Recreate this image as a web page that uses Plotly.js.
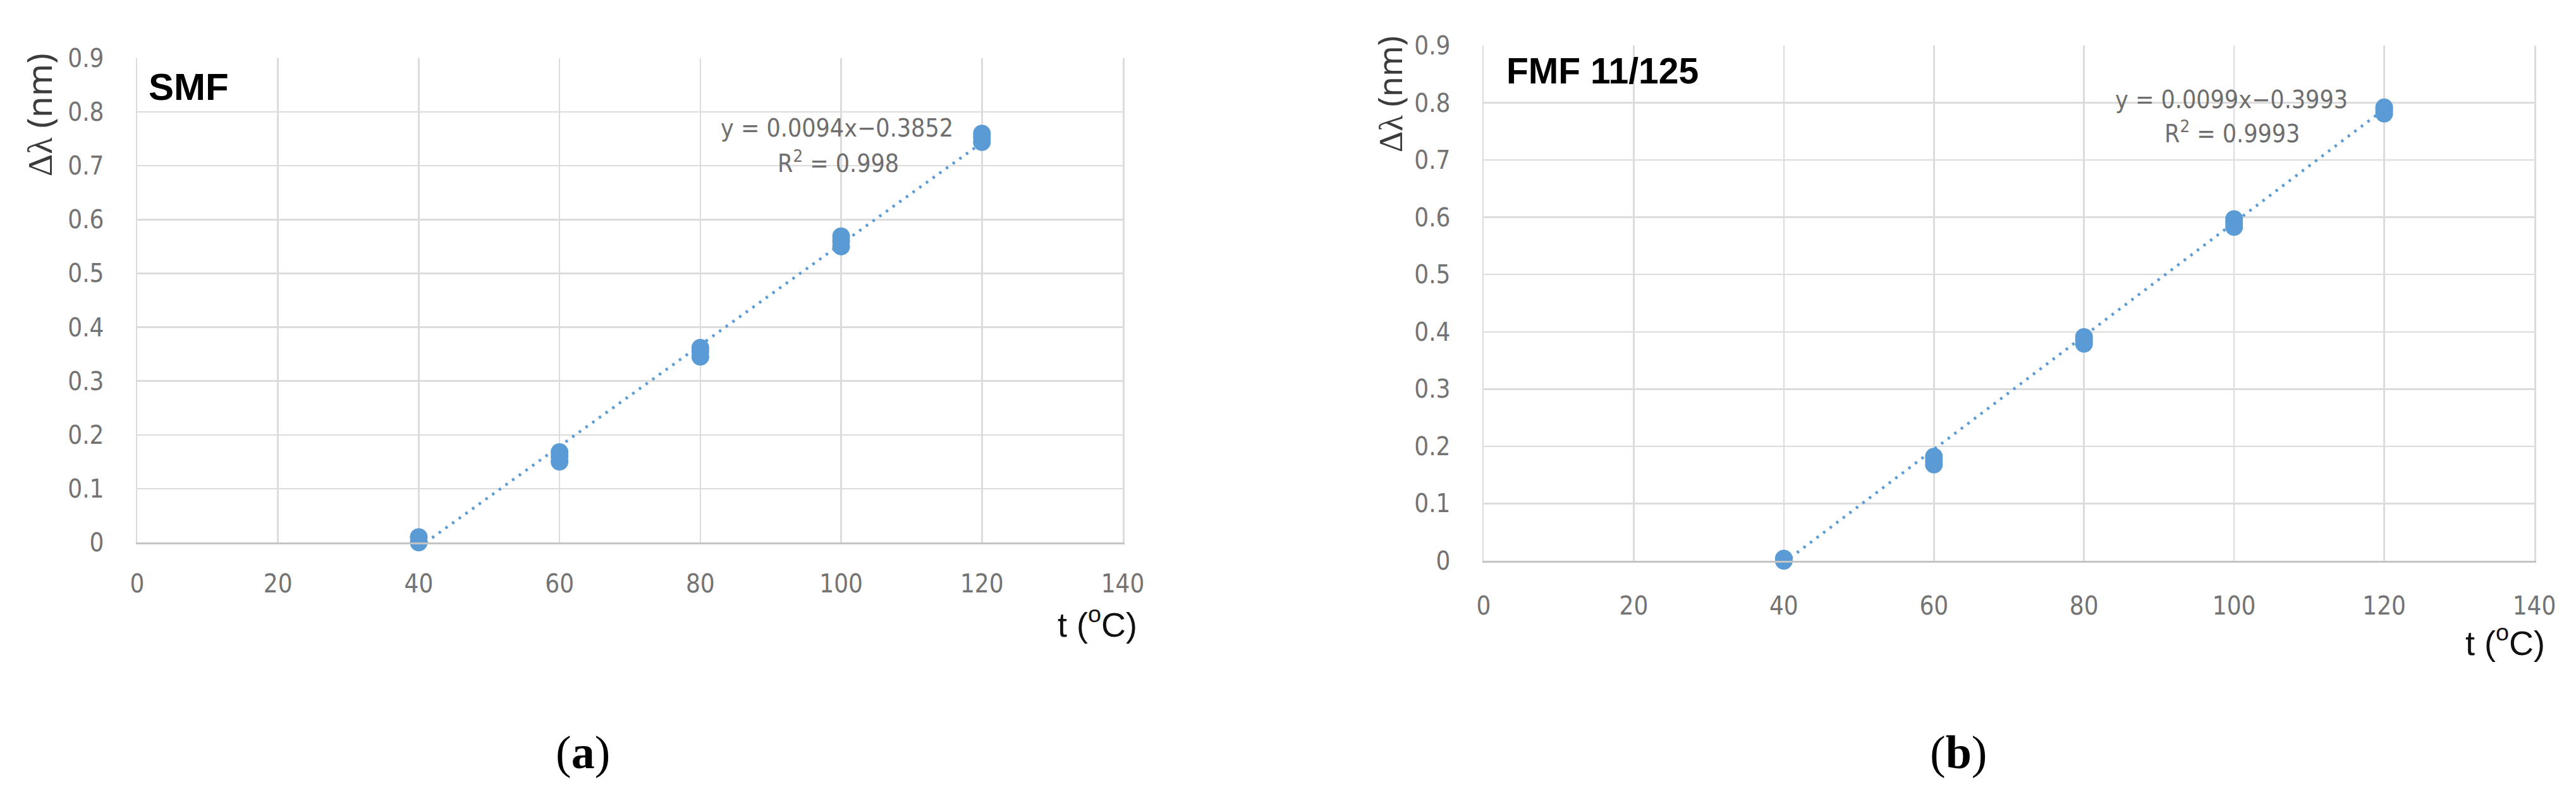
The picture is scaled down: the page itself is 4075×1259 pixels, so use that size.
<!DOCTYPE html>
<html>
<head>
<meta charset="utf-8">
<script src="https://cdn.plot.ly/plotly-3.0.1.min.js"></script>
<style>
body { margin: 0; background: #fff; }
#graph { width: 4075px; height: 1259px; }
</style>
</head>
<body>
<div id="graph"></div>
<script>
// wavelength shift vs temperature, two fibres, Excel-style scatter + linear trendline
var W = 4075, H = 1259;

// (a) SMF
var smfT = [40, 40, 60, 60, 60, 80, 80, 80, 100, 100, 100, 120, 120, 120];
var smfD = [0.0, 0.01, 0.15, 0.16, 0.168, 0.345, 0.355, 0.362, 0.55, 0.56, 0.569, 0.744, 0.753, 0.76];
var smfSlope = 0.0094, smfIcpt = -0.3852, smfR2 = '0.998';

// (b) FMF 11/125
var fmfT = [40, 40, 60, 60, 60, 80, 80, 80, 100, 100, 100, 120, 120, 120];
var fmfD = [0.0, 0.004, 0.168, 0.175, 0.182, 0.379, 0.385, 0.391, 0.583, 0.59, 0.597, 0.781, 0.787, 0.792];
var fmfSlope = 0.0099, fmfIcpt = -0.3993, fmfR2 = '0.9993';

var xTicks = [0, 20, 40, 60, 80, 100, 120, 140];
var yTicks = [0, 0.1, 0.2, 0.3, 0.4, 0.5, 0.6, 0.7, 0.8, 0.9];
var yTickText = ['0', '0.1', '0.2', '0.3', '0.4', '0.5', '0.6', '0.7', '0.8', '0.9'];

var blue = '#5b9bd5';
var tickFont = { family: 'DejaVu Sans Condensed, Liberation Sans Narrow, sans-serif', size: 40, color: '#737373' };

function px(x) { return x / W; }
function py(y) { return 1 - y / H; }

function points(t, d, xa, ya) {
	return {
		x: t, y: d, xaxis: xa, yaxis: ya,
		type: 'scatter', mode: 'markers', cliponaxis: false,
		marker: { size: 28, color: blue }
	};
}

function trend(t, slope, icpt, xa, ya) {
	var lo = Math.min.apply(null, t), hi = Math.max.apply(null, t);
	return {
		x: [lo, hi], y: [slope * lo + icpt, slope * hi + icpt], xaxis: xa, yaxis: ya,
		type: 'scatter', mode: 'lines', cliponaxis: false,
		line: { color: blue, width: 4.5, dash: '4px,9px' }
	};
}

var data = [
	trend(smfT, smfSlope, smfIcpt, 'x', 'y'),
	points(smfT, smfD, 'x', 'y'),
	trend(fmfT, fmfSlope, fmfIcpt, 'x2', 'y2'),
	points(fmfT, fmfD, 'x2', 'y2')
];

function xax(dom, anchor, standoff) {
	return {
		domain: dom, anchor: anchor, range: [0, 140],
		tickvals: xTicks, ticks: '', tickfont: tickFont, ticklabelstandoff: standoff,
		showgrid: true, gridcolor: '#dcdcdc', gridwidth: 2.5,
		zeroline: false, showline: true, linecolor: '#c4c4c4', linewidth: 3,
		fixedrange: true
	};
}

function yax(dom, anchor, standoff) {
	return {
		domain: dom, anchor: anchor, range: [0, 0.9],
		tickvals: yTicks, ticktext: yTickText, ticks: '', tickfont: tickFont, ticklabelstandoff: standoff,
		showgrid: true, gridcolor: '#dcdcdc', gridwidth: 2.5,
		zeroline: false, showline: true, mirror: true, linecolor: '#dcdcdc', linewidth: 2.5,
		fixedrange: true
	};
}

function eqText(slope, icpt) {
	return 'y = ' + slope.toFixed(4) + 'x\u2212' + Math.abs(icpt).toFixed(4);
}

var eqFont = { family: 'DejaVu Sans Condensed, Liberation Sans Narrow, sans-serif', size: 39, color: '#6e6e6e' };
var ttlFont = { family: 'Liberation Sans, Arial, sans-serif', size: 54, color: '#111' };
var ylabel = '<span style="font-family:Liberation Serif">\u0394\u03bb</span> (nm)';

var ann = [
	// axis titles
	{ text: ylabel, x: px(60), y: py(182), textangle: -90, font: { family: 'Noto Sans, sans-serif', size: 55, color: '#3c3c3c' } },
	{ text: ylabel, x: px(2197), y: py(149), textangle: -90, font: { family: 'Noto Sans, sans-serif', size: 52, color: '#3c3c3c' } },
	{ text: 't (<sup>o</sup>C)', x: px(1736), y: py(984), font: ttlFont },
	{ text: 't (<sup>o</sup>C)', x: px(3963), y: py(1013), font: ttlFont },
	// panel names
	{ text: '<b>SMF</b>', x: px(233), y: py(137), xanchor: 'left', font: { family: 'Liberation Sans, Arial, sans-serif', size: 60, color: '#000' } },
	{ text: '<b>FMF 11/125</b>', x: px(2381), y: py(112), xanchor: 'left', font: { family: 'Liberation Sans, Arial, sans-serif', size: 57, color: '#000' } },
	// trendline equations
	{ text: eqText(smfSlope, smfIcpt), x: px(1324), y: py(203), font: eqFont },
	{ text: 'R<sup>2</sup> = ' + smfR2, x: px(1326), y: py(256), font: eqFont },
	{ text: eqText(fmfSlope, fmfIcpt), x: px(3530), y: py(157), font: eqFont },
	{ text: 'R<sup>2</sup> = ' + fmfR2, x: px(3531), y: py(209), font: eqFont },
	// sub-figure letters
	{ text: '(<b>a</b>)', x: px(922), y: py(1190), font: { family: 'Liberation Serif, serif', size: 74, color: '#000' } },
	{ text: '(<b>b</b>)', x: px(3098), y: py(1190), font: { family: 'Liberation Serif, serif', size: 74, color: '#000' } }
];
ann.forEach(function (a) {
	a.xref = 'paper'; a.yref = 'paper'; a.showarrow = false;
	if (!a.xanchor) a.xanchor = 'center';
	a.yanchor = 'middle';
});

var layout = {
	width: W, height: H,
	margin: { l: 0, r: 0, t: 0, b: 0 },
	paper_bgcolor: '#fff', plot_bgcolor: '#fff',
	showlegend: false,
	xaxis: xax([px(217), px(1776)], 'y', 28),
	yaxis: yax([py(858), py(92)], 'x', 42),
	xaxis2: xax([px(2347), px(4009)], 'y2', 34),
	yaxis2: yax([py(887), py(72)], 'x2', 42),
	annotations: ann
};

Plotly.newPlot('graph', data, layout, { staticPlot: true });
</script>
</body>
</html>
